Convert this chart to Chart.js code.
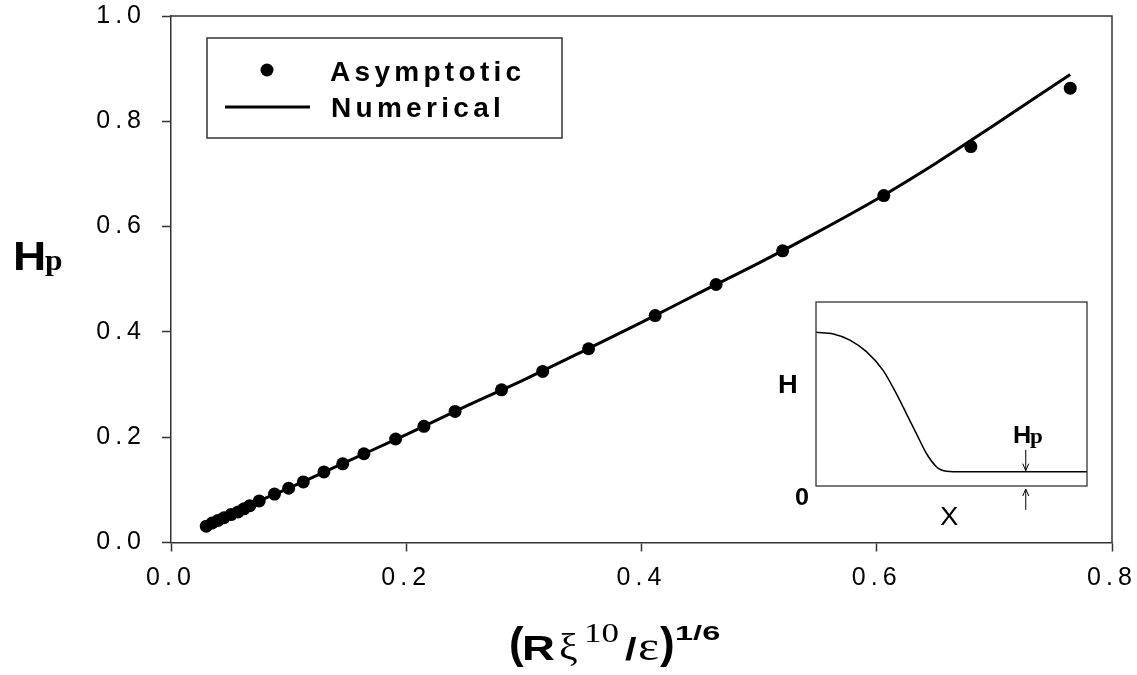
<!DOCTYPE html>
<html>
<head>
<meta charset="utf-8">
<script src="https://cdn.jsdelivr.net/npm/chart.js@4.4.1/dist/chart.umd.min.js"></script>
<style>
  html, body { margin: 0; padding: 0; background: #fff; }
  #wrap { position: relative; width: 1137px; height: 675px; }
  #main { position: absolute; left: 0; top: 0; }
  #inset { position: absolute; left: 760px; top: 280px; }
</style>
</head>
<body>
<div id="wrap">
  <canvas id="main" width="1137" height="675"></canvas>
  <canvas id="inset" width="360" height="270"></canvas>
</div>
<script>
// asymptotic solution (dots)
const asymX = [0.030, 0.035, 0.040, 0.045, 0.051, 0.057, 0.062, 0.067, 0.075, 0.088, 0.100, 0.1125,
               0.130, 0.146, 0.164, 0.191, 0.215, 0.2415, 0.281, 0.316, 0.355, 0.4116, 0.4634,
               0.520, 0.606, 0.680, 0.7645];
const asymY = [0.031, 0.037, 0.042, 0.047, 0.053, 0.058, 0.064, 0.070, 0.079, 0.092, 0.103, 0.115,
               0.134, 0.1495, 0.1686, 0.1966, 0.2206, 0.249, 0.290, 0.325, 0.368, 0.431, 0.490,
               0.554, 0.659, 0.752, 0.863];

// numerical solution (line)
const numX = [0.030, 0.050, 0.075, 0.100, 0.150, 0.200, 0.250, 0.300, 0.350, 0.400, 0.450,
              0.500, 0.550, 0.600, 0.650, 0.700, 0.7645];
const numY = [0.032, 0.052, 0.079, 0.103, 0.154, 0.205, 0.258, 0.309, 0.363, 0.418, 0.475,
              0.531, 0.590, 0.652, 0.720, 0.793, 0.889];

const xTicks = [0.0, 0.2, 0.4, 0.6, 0.8];
const yTicks = [0.0, 0.2, 0.4, 0.6, 0.8, 1.0];

// inset: film profile H(X), both axes 0..1
const insetX = [0, 0.064, 0.125, 0.186, 0.247, 0.296, 0.333, 0.370, 0.407, 0.444, 0.463, 0.506, 1];
const insetY = [0.835, 0.826, 0.793, 0.730, 0.630, 0.503, 0.395, 0.286, 0.178, 0.105, 0.087, 0.078, 0.078];
const hpArrowX = 0.774;
const hpLevel = 0.078;

const AXIS = '#333';
const SANS = '"Liberation Sans", Arial, sans-serif';
const SERIF = '"Liberation Serif", "Times New Roman", serif';

const toPts = (xs, ys) => xs.map((x, i) => ({ x: x, y: ys[i] }));

// text drawn with an optional horizontal stretch (the source figure is stretched sideways)
function text(ctx, str, font, x, y, sx, spacing) {
  ctx.save();
  ctx.font = font;
  ctx.letterSpacing = spacing || '0px';
  ctx.translate(x, y);
  ctx.scale(sx || 1, 1);
  ctx.fillText(str, 0, 0);
  ctx.restore();
}

const noPad = s => { s.paddingTop = 0; s.paddingBottom = 0; s.paddingLeft = 0; s.paddingRight = 0; };

const mainDecor = {
  id: 'mainDecor',
  beforeDraw(chart) {
    chart.ctx.letterSpacing = '5px';
  },
  afterDraw(chart) {
    const ctx = chart.ctx;
    const a = chart.chartArea;
    const ds = chart.data.datasets;
    ctx.save();
    ctx.letterSpacing = '0px';
    // top and right frame
    ctx.strokeStyle = AXIS;
    ctx.lineWidth = 1.5;
    ctx.beginPath();
    ctx.moveTo(a.left, a.top);
    ctx.lineTo(a.right, a.top);
    ctx.lineTo(a.right, a.bottom);
    ctx.stroke();

    // legend
    ctx.strokeRect(207, 38, 355, 100);
    ctx.fillStyle = ds[1].backgroundColor;
    ctx.beginPath();
    ctx.arc(267, 70, ds[1].pointRadius, 0, Math.PI * 2);
    ctx.fill();
    ctx.strokeStyle = ds[0].borderColor;
    ctx.lineWidth = ds[0].borderWidth;
    ctx.beginPath();
    ctx.moveTo(225, 107);
    ctx.lineTo(310, 107);
    ctx.stroke();
    ctx.fillStyle = '#000';
    ctx.textBaseline = 'alphabetic';
    ctx.textAlign = 'left';
    text(ctx, ds[1].label, 'bold 28px ' + SANS, 330, 81, 1, '4.3px');
    text(ctx, ds[0].label, 'bold 28px ' + SANS, 331, 117, 1, '4.3px');

    // y title H_p
    text(ctx, 'H', 'bold 40px ' + SANS, 13, 270, 1.15);
    text(ctx, 'p', 'bold 30px ' + SERIF, 45, 270, 1.05);

    // x title (R ξ^10 / ε)^1/6
    text(ctx, '(', 'bold 44px ' + SANS, 509, 658, 1);
    text(ctx, 'R', 'bold 35px ' + SANS, 522, 660, 1.3);
    text(ctx, 'ξ', '38px ' + SERIF, 559, 660, 1.1);
    text(ctx, '10', '28px ' + SERIF, 584, 642, 1.25);
    text(ctx, '/', 'bold 32px ' + SANS, 625, 660, 1.3);
    text(ctx, 'ε', '40px ' + SERIF, 638, 660, 1.25);
    text(ctx, ')', 'bold 44px ' + SANS, 660, 658, 1);
    text(ctx, '1/6', 'bold 21px ' + SANS, 675, 640, 1.55);
    ctx.restore();
  }
};

new Chart(document.getElementById('main'), {
  type: 'scatter',
  data: {
    datasets: [
      {
        type: 'line',
        label: 'Numerical',
        data: toPts(numX, numY),
        borderColor: '#000',
        borderWidth: 3,
        pointRadius: 0,
        fill: false,
        cubicInterpolationMode: 'monotone'
      },
      {
        label: 'Asymptotic',
        data: toPts(asymX, asymY),
        backgroundColor: '#000',
        borderColor: '#000',
        borderWidth: 0,
        pointRadius: 6.5,
        pointStyle: 'circle'
      }
    ]
  },
  options: {
    responsive: false,
    animation: false,
    devicePixelRatio: 1,
    layout: { padding: { left: 0, top: 16, right: 25, bottom: 0 } },
    plugins: { legend: { display: false }, tooltip: { enabled: false } },
    scales: {
      x: {
        type: 'linear', min: 0, max: 0.8,
        afterBuildTicks: s => { s.ticks = xTicks.map(v => ({ value: v })); },
        afterFit: s => { s.height = 132.5; noPad(s); },
        ticks: { callback: v => v.toFixed(1), color: '#000', padding: 12, maxRotation: 0, autoSkip: false,
                 font: { family: SANS, size: 25 } },
        grid: { display: true, drawOnChartArea: false, drawTicks: true, tickLength: 9, tickColor: AXIS, tickWidth: 1.5 },
        border: { display: true, color: AXIS, width: 1.5 }
      },
      y: {
        type: 'linear', min: 0, max: 1,
        afterBuildTicks: s => { s.ticks = yTicks.map(v => ({ value: v })); },
        afterFit: s => { s.width = 171; noPad(s); },
        ticks: { callback: v => v.toFixed(1), color: '#000', padding: 16, autoSkip: false,
                 font: { family: SANS, size: 25 } },
        grid: { display: true, drawOnChartArea: false, drawTicks: true, tickLength: 9, tickColor: AXIS, tickWidth: 1.5 },
        border: { display: true, color: AXIS, width: 1.5 }
      }
    }
  },
  plugins: [mainDecor]
});

// ---- inset ----
const insetDecor = {
  id: 'insetDecor',
  beforeDatasetsDraw(chart) {
    const ctx = chart.ctx;
    const a = chart.chartArea;
    ctx.save();
    ctx.fillStyle = '#fff';
    ctx.fillRect(a.left, a.top, a.right - a.left, a.bottom - a.top);
    ctx.restore();
  },
  afterDraw(chart) {
    const ctx = chart.ctx;
    const a = chart.chartArea;
    const xs = chart.scales.x;
    const ys = chart.scales.y;
    ctx.save();
    ctx.strokeStyle = AXIS;
    ctx.lineWidth = 1.3;
    ctx.strokeRect(a.left, a.top, a.right - a.left, a.bottom - a.top);

    ctx.fillStyle = '#000';
    ctx.textBaseline = 'alphabetic';
    text(ctx, 'H', 'bold 26px ' + SANS, a.left - 38, a.top + 91, 1.05);
    text(ctx, '0', 'bold 24px ' + SANS, a.left - 21, a.bottom + 19, 1.05);
    text(ctx, 'X', '25px ' + SANS, a.left + 124, a.bottom + 39, 1.1);
    text(ctx, 'H', 'bold 24px ' + SANS, a.left + 197, a.top + 141, 1.05);
    text(ctx, 'p', 'bold 22px ' + SERIF, a.left + 214, a.top + 141, 1.05);

    // H_p arrows
    const ax = xs.getPixelForValue(hpArrowX);
    const arrow = (y0, y1) => {
      const dir = Math.sign(y1 - y0);
      ctx.strokeStyle = '#000';
      ctx.lineWidth = 1;
      ctx.beginPath();
      ctx.moveTo(ax, y0);
      ctx.lineTo(ax, y1);
      ctx.moveTo(ax - 3, y1 - dir * 7);
      ctx.lineTo(ax, y1);
      ctx.lineTo(ax + 3, y1 - dir * 7);
      ctx.stroke();
    };
    arrow(ys.getPixelForValue(0.196), ys.getPixelForValue(hpLevel) - 1);
    arrow(ys.getPixelForValue(-0.13), ys.getPixelForValue(0) + 3);
    ctx.restore();
  }
};

new Chart(document.getElementById('inset'), {
  type: 'line',
  data: {
    datasets: [{
      data: toPts(insetX, insetY),
      borderColor: '#000',
      borderWidth: 1.5,
      pointRadius: 0,
      fill: false,
      cubicInterpolationMode: 'monotone'
    }]
  },
  options: {
    responsive: false,
    animation: false,
    devicePixelRatio: 1,
    layout: { padding: { left: 56, top: 22, right: 33, bottom: 64 } },
    plugins: { legend: { display: false }, tooltip: { enabled: false } },
    scales: {
      x: { type: 'linear', min: 0, max: 1, display: false },
      y: { type: 'linear', min: 0, max: 1, display: false }
    }
  },
  plugins: [insetDecor]
});
</script>
</body>
</html>
